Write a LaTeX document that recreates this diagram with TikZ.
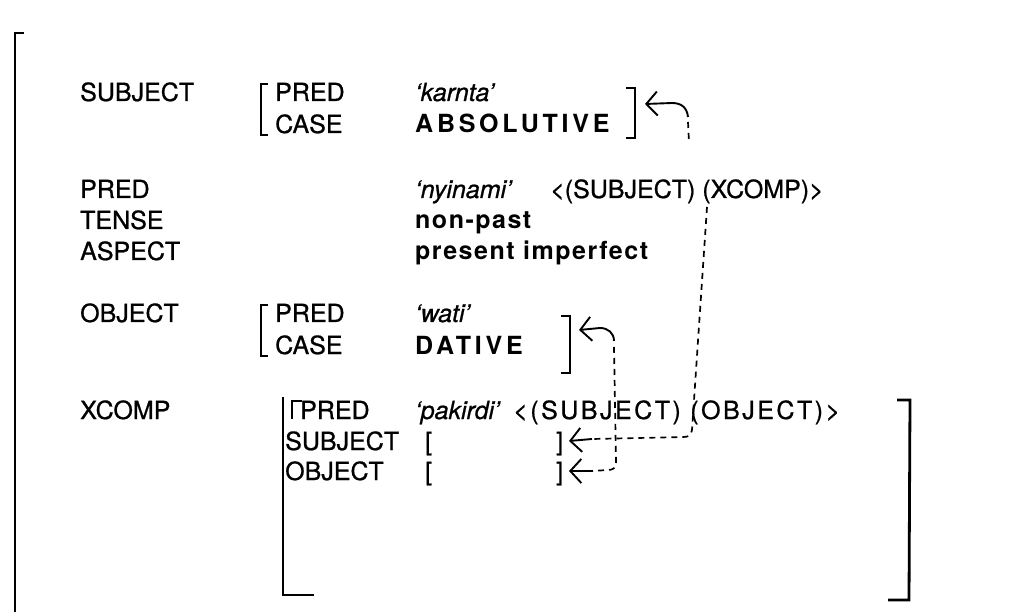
\documentclass[tikz,border=0pt]{standalone}
\usepackage{fontspec}
\setmainfont{TeX Gyre Heros}
\newfontfamily\labfont{TeX Gyre Heros}[FakeBold=0.8]
\newfontfamily\capsbold{TeX Gyre Heros}[LetterSpace=15]
\newfontfamily\lowbold{TeX Gyre Heros}[LetterSpace=6]
\newfontfamily\argsfont{TeX Gyre Heros}[FakeBold=0.8,LetterSpace=10]
\usetikzlibrary{arrows.meta}
\begin{document}
\begin{tikzpicture}[x=1pt,y=-1pt,
  txt/.style={anchor=base west, inner sep=0pt, font=\fontsize{25}{29}\labfont},
  ival/.style={anchor=base west, inner sep=0pt, font=\fontsize{25}{29}\labfont\itshape},
  bval/.style={anchor=base west, inner sep=0pt, font=\fontsize{25}{29}\capsbold\bfseries},
  lval/.style={anchor=base west, inner sep=0pt, font=\fontsize{25}{29}\lowbold\bfseries},
  xargs/.style={anchor=base west, inner sep=0pt, font=\fontsize{25}{29}\argsfont},
  brk/.style={line width=2.8pt},
  thin brk/.style={line width=2pt},
  ctl/.style={line width=1.7pt, dash pattern=on 6pt off 5pt},
  solidctl/.style={line width=1.9pt},
  hd/.style={-{Straight Barb[length=11pt,width=24pt,line width=1.9pt]}}
]
\useasboundingbox (0,0) rectangle (1028,612);

% outer left bracket
\draw[brk] (24,33) -- (15,33) -- (15,612);

% SUBJECT
\node[txt] (l-subj) at (80,101) {SUBJECT};
\node[txt] (s-pred) at (275,101) {PRED};
\node[ival] (s-predv) at (415,101) {‘karnta’};
\node[txt] (s-case) at (275,133) {CASE};
\node[bval] (s-casev) at (415,133) {ABSOLUTIVE};
\draw[brk] (268,84) -- (261,84) -- (261,135) -- (268,135);
\draw[brk] (626,88) -- (635,88) -- (635,138) -- (626,138);
\coordinate (s-tip) at (645,104);

% PRED / TENSE / ASPECT
\node[txt] (l-pred) at (80,198) {PRED};
\node[ival] (pred-v) at (415,198) {‘nyinami’};
\node[txt] (pred-args) at (550,198) {<(SUBJECT) (XCOMP)>};
\node[txt] (l-tense) at (80,229) {TENSE};
\node[lval] (tense-v) at (415,229) {non-past};
\node[txt] (l-aspect) at (80,260) {ASPECT};
\node[lval] (aspect-v) at (415,260) {present imperfect};

% OBJECT
\node[txt] (l-obj) at (80,322) {OBJECT};
\node[txt] (o-pred) at (275,322) {PRED};
\node[ival] (o-predv) at (415,322) {‘wati’};
\node[txt] (o-case) at (275,354) {CASE};
\node[bval] (o-casev) at (415,354) {DATIVE};
\draw[brk] (268,305) -- (261,305) -- (261,356) -- (268,356);
\draw[brk] (561,316) -- (570,316) -- (570,373) -- (561,373);
\coordinate (o-tip) at (579,330);

% XCOMP
\node[txt] (l-xcomp) at (80,419) {XCOMP};
\node[txt] (x-pred) at (300,419) {PRED};
\node[ival] (x-predv) at (415,419) {‘pakirdi’};
\node[xargs] (x-args) at (513,419) {<(SUBJECT) (OBJECT)>};
\node[txt] (x-subj) at (285,450) {SUBJECT};
\node[txt] (x-subj-lb) at (425,450) {[};
\node[txt] (x-subj-rb) at (556,450) {]};
\node[txt] (x-obj) at (285,480) {OBJECT};
\node[txt] (x-obj-lb) at (425,480) {[};
\node[txt] (x-obj-rb) at (556,480) {]};
\draw[brk] (283,397) -- (283,595) -- (314,595);
\draw[thin brk] (292,419) -- (292,401) -- (302,401);
\draw[brk] (897,400) -- (910,400) -- (909,600) -- (888,600);
\coordinate (xs-tip) at (569,441);
\coordinate (xo-tip) at (569,471);

% control line: SUBJECT <-> XCOMP SUBJECT
\draw[solidctl, hd] (672,103) -- (s-tip);
\draw[solidctl] (672,103) .. controls (682,103) and (687,108) .. (688,117);
\draw[ctl] (688,122) -- (689,143)
           (707,207) -- (692,430) .. controls (691,436) and (688,437) .. (683,437) -- (592,439);
\draw[solidctl, hd] (592,439) -- (xs-tip);

% control line: OBJECT <-> XCOMP OBJECT
\draw[solidctl, hd] (600,328) -- (o-tip);
\draw[solidctl] (600,328) .. controls (608,328) and (614,333) .. (614,341);
\draw[ctl] (614,347) -- (616,462) .. controls (616,468) and (613,470) .. (608,470) -- (592,471);
\draw[solidctl, hd] (592,471) -- (xo-tip);
\end{tikzpicture}
\end{document}
